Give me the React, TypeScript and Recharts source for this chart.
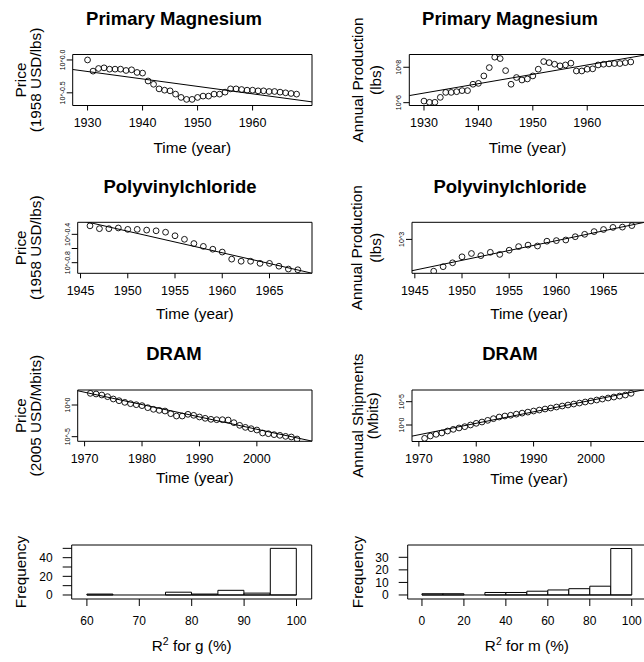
import React from "react";
import {
  ComposedChart,
  Scatter,
  Line,
  Bar,
  XAxis,
  YAxis,
  ReferenceArea,
  ReferenceLine,
} from "recharts";

const FONT = '"Liberation Sans", Arial, Helvetica, sans-serif';

// ---- Primary Magnesium (log10 values) ----
const mgYears = [
  1930, 1931, 1932, 1933, 1934, 1935, 1936, 1937, 1938, 1939, 1940, 1941, 1942,
  1943, 1944, 1945, 1946, 1947, 1948, 1949, 1950, 1951, 1952, 1953, 1954, 1955,
  1956, 1957, 1958, 1959, 1960, 1961, 1962, 1963, 1964, 1965, 1966, 1967, 1968,
];
const mgPriceLog = [
  0.0, -0.17, -0.13, -0.12, -0.14, -0.14, -0.14, -0.16, -0.15, -0.19, -0.2,
  -0.32, -0.37, -0.44, -0.46, -0.47, -0.52, -0.57, -0.6, -0.6, -0.57, -0.55,
  -0.55, -0.52, -0.52, -0.49, -0.44, -0.44, -0.45, -0.46, -0.46, -0.47, -0.47,
  -0.48, -0.48, -0.49, -0.5, -0.51, -0.52,
];
const mgPriceFit = [
  { x: 1927.3, y: -0.145 },
  { x: 1970.8, y: -0.638 },
];
const mgProdLog = [
  6.09, 6.02, 6.02, 6.3, 6.58, 6.58, 6.62, 6.68, 6.68, 7.04, 7.09, 7.51, 7.98,
  8.57, 8.49, 7.81, 7.04, 7.42, 7.28, 7.34, 7.51, 7.89, 8.32, 8.26, 8.17, 8.08,
  8.13, 8.23, 7.79, 7.79, 7.89, 7.91, 8.13, 8.17, 8.19, 8.21, 8.21, 8.26, 8.3,
];
const mgProdFit = [
  { x: 1927.3, y: 6.4 },
  { x: 1970.8, y: 8.7 },
];
const mgXTicks = [1930, 1940, 1950, 1960];
const mgPriceTicks = [-0.5, 0];
const mgPriceTickLabels = ["10^-0.5", "10^0.0"];
const mgProdTicks = [6, 8];
const mgProdTickLabels = ["10^6", "10^8"];

// ---- Polyvinylchloride ----
const pvcPriceYears = [
  1946, 1947, 1948, 1949, 1950, 1951, 1952, 1953, 1954, 1955, 1956, 1957, 1958,
  1959, 1960, 1961, 1962, 1963, 1964, 1965, 1966, 1967, 1968,
];
const pvcPriceLog = [
  -0.28, -0.32, -0.32, -0.31, -0.33, -0.33, -0.34, -0.35, -0.37, -0.42, -0.47,
  -0.53, -0.57, -0.61, -0.65, -0.75, -0.78, -0.78, -0.81, -0.81, -0.85, -0.89,
  -0.9,
];
const pvcPriceFit = [
  { x: 1944.7, y: -0.195 },
  { x: 1969.5, y: -0.949 },
];
const pvcProdYears = [
  1947, 1948, 1949, 1950, 1951, 1952, 1953, 1954, 1955, 1956, 1957, 1958, 1959,
  1960, 1961, 1962, 1963, 1964, 1965, 1966, 1967, 1968,
];
const pvcProdLog = [
  1.94, 2.09, 2.22, 2.42, 2.53, 2.46, 2.57, 2.5, 2.64, 2.76, 2.81, 2.78, 2.94,
  2.96, 2.98, 3.09, 3.17, 3.26, 3.33, 3.4, 3.41, 3.46,
];
const pvcProdFit = [
  { x: 1944.7, y: 1.956 },
  { x: 1969.5, y: 3.58 },
];
const pvcXTicks = [1945, 1950, 1955, 1960, 1965];
const pvcPriceTicks = [-0.8, -0.6, -0.4];
const pvcPriceTickLabels = ["10^-0.8", "", "10^-0.4"];
const pvcProdTicks = [3];
const pvcProdTickLabels = ["10^3"];

// ---- DRAM ----
const dramYears = [
  1971, 1972, 1973, 1974, 1975, 1976, 1977, 1978, 1979, 1980, 1981, 1982, 1983,
  1984, 1985, 1986, 1987, 1988, 1989, 1990, 1991, 1992, 1993, 1994, 1995, 1996,
  1997, 1998, 1999, 2000, 2001, 2002, 2003, 2004, 2005, 2006, 2007,
];
const dramPriceLog = [
  1.84, 1.74, 1.58, 1.32, 0.95, 0.68, 0.42, 0.21, 0.05, -0.1, -0.42, -0.68,
  -0.84, -0.95, -1.37, -1.74, -1.74, -1.47, -1.63, -1.89, -2.1, -2.26, -2.32,
  -2.32, -2.37, -2.79, -3.21, -3.53, -3.74, -3.95, -4.42, -4.53, -4.68, -4.79,
  -4.95, -5.05, -5.37,
];
const dramPriceFit = [
  { x: 1968.8, y: 2.25 },
  { x: 2009.6, y: -5.7 },
];
const dramShipLog = [
  -2.86, -2.36, -2.0, -1.71, -1.29, -0.93, -0.64, -0.36, 0.0, 0.36, 0.64, 1.0,
  1.36, 1.71, 1.93, 2.1, 2.33, 2.55, 2.77, 3.0, 3.21, 3.43, 3.64, 3.86, 4.07,
  4.29, 4.5, 4.71, 4.93, 5.14, 5.36, 5.57, 5.79, 6.0, 6.21, 6.43, 6.79,
];
const dramShipFit = [
  { x: 1968.8, y: -2.39 },
  { x: 2009.6, y: 7.65 },
];
const dramXTicks = [1970, 1980, 1990, 2000];
const dramPriceTicks = [-5, 0];
const dramPriceTickLabels = ["10^-5", "10^0"];
const dramShipTicks = [0, 5];
const dramShipTickLabels = ["10^0", "10^5"];

// ---- histograms ----
const gBreaks = [60, 65, 70, 75, 80, 85, 90, 95, 100];
const gCounts = [1, 0, 0, 3, 1, 5, 2, 50];
const gXTicks = [60, 70, 80, 90, 100];
const gYTicks = [0, 10, 20, 30, 40, 50];
const gYTickLabels = ["0", "", "20", "", "40", ""];

const mBreaks = [0, 10, 20, 30, 40, 50, 60, 70, 80, 90, 100];
const mCounts = [1, 1, 0, 2, 2, 3, 4, 5, 7, 37];
const mXTicks = [0, 20, 40, 60, 80, 100];
const mYTicks = [0, 10, 20, 30];
const mYTickLabels = ["0", "10", "20", "30"];

const toPoints = (xs: number[], ys: number[]) =>
  xs.map((x, i) => ({ x, y: ys[i] }));

const toBins = (breaks: number[], counts: number[]) =>
  counts.map((n, i) => ({ mid: (breaks[i] + breaks[i + 1]) / 2, n }));

// axes get a real size; the margins are reduced by the same amount
const AX_W = 30;
const AX_H = 20;

type Box = { top: number; right: number; bottom: number; left: number };

const toMargin = (b: Box) => ({
  top: b.top,
  right: b.right,
  bottom: b.bottom - AX_H,
  left: b.left - AX_W,
});

type TextSpec = {
  title?: string;
  titleX?: number;
  titleY?: number;
  xTitle: React.ReactNode;
  xTitleY: number;
  yLines: string[];
  yLineX: number[];
};

function PanelText({ spec, w, h, b }: { spec: TextSpec; w: number; h: number; b: Box }) {
  const cx = (b.left + w - b.right) / 2;
  const cy = (b.top + h - b.bottom) / 2;
  return (
    <g fontFamily={FONT} fill="#000" stroke="none">
      {spec.title && (
        <text
          x={spec.titleX}
          y={spec.titleY}
          textAnchor="middle"
          fontSize={18.5}
          fontWeight="bold"
        >
          {spec.title}
        </text>
      )}
      <text
        x={cx}
        y={spec.xTitleY}
        textAnchor="middle"
        fontSize={15.3}
        fontWeight="normal"
      >
        {spec.xTitle}
      </text>
      {spec.yLines.map((t, i) => (
        <text
          key={t}
          x={spec.yLineX[i]}
          y={cy}
          transform={`rotate(-90 ${spec.yLineX[i]} ${cy})`}
          textAnchor="middle"
          fontSize={15.3}
          fontWeight="normal"
        >
          {t}
        </text>
      ))}
    </g>
  );
}

type ScatterPanelProps = {
  left: number;
  top: number;
  w: number;
  h: number;
  b: Box;
  xDomain: [number, number];
  yDomain: [number, number];
  xTicks: number[];
  yTicks: number[];
  yTickLabels: string[];
  points: { x: number; y: number }[];
  fit: { x: number; y: number }[];
  text: TextSpec;
};

function ScatterPanel(p: ScatterPanelProps) {
  const labels = new Map(p.yTicks.map((t, i) => [t, p.yTickLabels[i]]));
  return (
    <div style={{ position: "absolute", left: p.left, top: p.top }}>
      <ComposedChart width={p.w} height={p.h} margin={toMargin(p.b)}>
        <XAxis
          type="number"
          dataKey="x"
          domain={p.xDomain}
          ticks={p.xTicks}
          interval={0}
          allowDataOverflow
          height={AX_H}
          axisLine={false}
          tickSize={5}
          tickMargin={8}
          tickLine={{ stroke: "#000" }}
          tick={{ fill: "#000", fontSize: 12.5, fontFamily: FONT }}
          label={{
            content: () => <PanelText spec={p.text} w={p.w} h={p.h} b={p.b} />,
          }}
        />
        <YAxis
          type="number"
          dataKey="y"
          domain={p.yDomain}
          ticks={p.yTicks}
          interval={0}
          allowDataOverflow
          width={AX_W}
          axisLine={false}
          tickSize={6}
          tickMargin={2}
          tickLine={{ stroke: "#000" }}
          tick={(tp: any) => (
            <text
              key={tp.index}
              x={tp.x}
              y={tp.y}
              transform={`rotate(-90 ${tp.x} ${tp.y})`}
              textAnchor="middle"
              fontSize={7}
              fontFamily={FONT}
              fill="#000"
            >
              {labels.get(tp.payload.value) ?? ""}
            </text>
          )}
        />
        <ReferenceArea
          x1={p.xDomain[0]}
          x2={p.xDomain[1]}
          y1={p.yDomain[0]}
          y2={p.yDomain[1]}
          fill="none"
          stroke="#000"
          strokeWidth={1}
          ifOverflow="visible"
        />
        <Line
          data={p.fit}
          dataKey="y"
          stroke="#000"
          strokeWidth={1}
          dot={false}
          activeDot={false}
          isAnimationActive={false}
        />
        <Scatter
          data={p.points}
          dataKey="y"
          isAnimationActive={false}
          shape={(sp: any) => (
            <circle cx={sp.cx} cy={sp.cy} r={2.9} fill="none" stroke="#000" strokeWidth={0.9} />
          )}
        />
      </ComposedChart>
    </div>
  );
}

type HistPanelProps = {
  left: number;
  top: number;
  w: number;
  h: number;
  b: Box;
  xDomain: [number, number];
  yDomain: [number, number];
  xTicks: number[];
  yTicks: number[];
  yTickLabels: string[];
  breaks: number[];
  counts: number[];
  text: TextSpec;
};

function HistPanel(p: HistPanelProps) {
  const labels = new Map(p.yTicks.map((t, i) => [t, p.yTickLabels[i]]));
  const bins = toBins(p.breaks, p.counts);
  const first = p.breaks[0];
  const last = p.breaks[p.breaks.length - 1];
  return (
    <div style={{ position: "absolute", left: p.left, top: p.top }}>
      <ComposedChart
        width={p.w}
        height={p.h}
        margin={toMargin(p.b)}
        data={bins}
        barCategoryGap={0}
        barGap={0}
      >
        <XAxis
          type="number"
          dataKey="mid"
          domain={p.xDomain}
          ticks={p.xTicks}
          interval={0}
          allowDataOverflow
          height={AX_H}
          axisLine={false}
          tickSize={7}
          tickMargin={10}
          tickLine={{ stroke: "#000" }}
          tick={{ fill: "#000", fontSize: 12, fontFamily: FONT }}
          label={{
            content: () => <PanelText spec={p.text} w={p.w} h={p.h} b={p.b} />,
          }}
        />
        <YAxis
          type="number"
          domain={p.yDomain}
          ticks={p.yTicks}
          interval={0}
          allowDataOverflow
          width={AX_W}
          axisLine={false}
          tickSize={9}
          tickMargin={10}
          tickLine={{ stroke: "#000" }}
          tick={{ fill: "#000", fontSize: 12, fontFamily: FONT }}
          tickFormatter={(v: number) => labels.get(v) ?? ""}
        />
        <ReferenceArea
          x1={p.xDomain[0]}
          x2={p.xDomain[1]}
          y1={p.yDomain[0]}
          y2={p.yDomain[1]}
          fill="none"
          stroke="#000"
          strokeWidth={1}
          ifOverflow="visible"
        />
        <ReferenceLine
          segment={[
            { x: first, y: 0 },
            { x: last, y: 0 },
          ]}
          stroke="#000"
          strokeWidth={1}
        />
        <Bar
          dataKey="n"
          fill="#fff"
          stroke="#000"
          strokeWidth={1}
          isAnimationActive={false}
        />
      </ComposedChart>
    </div>
  );
}

const R2Label = ({ v }: { v: string }) => (
  <>
    <tspan>R</tspan>
    <tspan dy={-6} fontSize={10.5}>2</tspan>
    <tspan dy={6}>{` for ${v} (%)`}</tspan>
  </>
);

const LW = 322;
const RW = 330;

export default function App() {
  return (
    <div
      style={{
        position: "absolute",
        left: 0,
        top: 0,
        width: 644,
        height: 662,
        overflow: "hidden",
        background: "#fff",
      }}
    >
      <ScatterPanel
        left={0}
        top={0}
        w={LW}
        h={165}
        b={{ top: 54.5, bottom: 59.5, left: 72.7, right: 10 }}
        xDomain={[1927.3, 1970.8]}
        yDomain={[-0.693, 0.083]}
        xTicks={mgXTicks}
        yTicks={mgPriceTicks}
        yTickLabels={mgPriceTickLabels}
        points={toPoints(mgYears, mgPriceLog)}
        fit={mgPriceFit}
        text={{
          title: "Primary Magnesium",
          titleX: 174,
          titleY: 25,
          xTitle: "Time (year)",
          xTitleY: 153,
          yLines: ["Price", "(1958 USD/lbs)"],
          yLineX: [26, 41],
        }}
      />
      <ScatterPanel
        left={322}
        top={0}
        w={RW}
        h={165}
        b={{ top: 54.5, bottom: 59.5, left: 87.3, right: 6 }}
        xDomain={[1927.3, 1970.8]}
        yDomain={[5.84, 8.72]}
        xTicks={mgXTicks}
        yTicks={mgProdTicks}
        yTickLabels={mgProdTickLabels}
        points={toPoints(mgYears, mgProdLog)}
        fit={mgProdFit}
        text={{
          title: "Primary Magnesium",
          titleX: 188,
          titleY: 25,
          xTitle: "Time (year)",
          xTitleY: 153,
          yLines: ["Annual Production", "(lbs)"],
          yLineX: [40.5, 59],
        }}
      />
      <ScatterPanel
        left={0}
        top={165}
        w={LW}
        h={165}
        b={{ top: 57.3, bottom: 56.7, left: 77.7, right: 10 }}
        xDomain={[1944.7, 1969.5]}
        yDomain={[-0.95, -0.23]}
        xTicks={pvcXTicks}
        yTicks={pvcPriceTicks}
        yTickLabels={pvcPriceTickLabels}
        points={toPoints(pvcPriceYears, pvcPriceLog)}
        fit={pvcPriceFit}
        text={{
          title: "Polyvinylchloride",
          titleX: 180,
          titleY: 28.2,
          xTitle: "Time (year)",
          xTitleY: 154,
          yLines: ["Price", "(1958 USD/lbs)"],
          yLineX: [26, 41],
        }}
      />
      <ScatterPanel
        left={322}
        top={165}
        w={RW}
        h={165}
        b={{ top: 57.3, bottom: 56.7, left: 90, right: 6 }}
        xDomain={[1944.7, 1969.5]}
        yDomain={[1.87, 3.57]}
        xTicks={pvcXTicks}
        yTicks={pvcProdTicks}
        yTickLabels={pvcProdTickLabels}
        points={toPoints(pvcProdYears, pvcProdLog)}
        fit={pvcProdFit}
        text={{
          title: "Polyvinylchloride",
          titleX: 188,
          titleY: 28.2,
          xTitle: "Time (year)",
          xTitleY: 154,
          yLines: ["Annual Production", "(lbs)"],
          yLineX: [40.5, 59],
        }}
      />
      <ScatterPanel
        left={0}
        top={330}
        w={LW}
        h={165}
        b={{ top: 60, bottom: 53.7, left: 77.7, right: 10 }}
        xDomain={[1968.8, 2009.6]}
        yDomain={[-5.73, 2.37]}
        xTicks={dramXTicks}
        yTicks={dramPriceTicks}
        yTickLabels={dramPriceTickLabels}
        points={toPoints(dramYears, dramPriceLog)}
        fit={dramPriceFit}
        text={{
          title: "DRAM",
          titleX: 174,
          titleY: 30,
          xTitle: "Time (year)",
          xTitleY: 153,
          yLines: ["Price", "(2005 USD/Mbits)"],
          yLineX: [26, 41],
        }}
      />
      <ScatterPanel
        left={322}
        top={330}
        w={RW}
        h={165}
        b={{ top: 60, bottom: 53.5, left: 90, right: 6 }}
        xDomain={[1968.8, 2009.6]}
        yDomain={[-3.54, 7.51]}
        xTicks={dramXTicks}
        yTicks={dramShipTicks}
        yTickLabels={dramShipTickLabels}
        points={toPoints(dramYears, dramShipLog)}
        fit={dramShipFit}
        text={{
          title: "DRAM",
          titleX: 188,
          titleY: 30,
          xTitle: "Time (year)",
          xTitleY: 154,
          yLines: ["Annual Shipments", "(Mbits)"],
          yLineX: [40.5, 56],
        }}
      />
      <HistPanel
        left={0}
        top={495}
        w={LW}
        h={167}
        b={{ top: 50, bottom: 63, left: 71.7, right: 10.3 }}
        xDomain={[57.1, 102.9]}
        yDomain={[-4.3, 53.6]}
        xTicks={gXTicks}
        yTicks={gYTicks}
        yTickLabels={gYTickLabels}
        breaks={gBreaks}
        counts={gCounts}
        text={{
          xTitle: <R2Label v="g" />,
          xTitleY: 156,
          yLines: ["Frequency"],
          yLineX: [26],
        }}
      />
      <HistPanel
        left={322}
        top={495}
        w={RW}
        h={167}
        b={{ top: 50, bottom: 63, left: 85.7, right: 6 }}
        xDomain={[-6.8, 106.8]}
        yDomain={[-3.2, 39.8]}
        xTicks={mXTicks}
        yTicks={mYTicks}
        yTickLabels={mYTickLabels}
        breaks={mBreaks}
        counts={mCounts}
        text={{
          xTitle: <R2Label v="m" />,
          xTitleY: 156,
          yLines: ["Frequency"],
          yLineX: [40.5],
        }}
      />
    </div>
  );
}
